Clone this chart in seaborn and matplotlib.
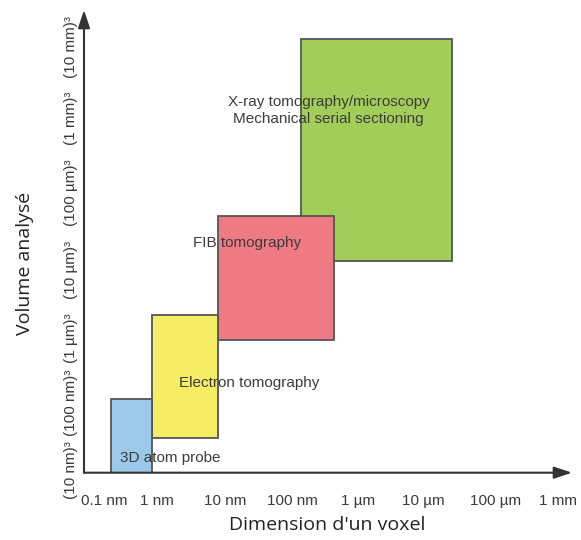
import matplotlib
matplotlib.use("Agg")
import matplotlib.pyplot as plt
import seaborn as sns

# ---- data (voxel size in nm, analysed volume side length in nm) ----
techniques = ["X-ray tomography/microscopy\nMechanical serial sectioning",
              "FIB tomography", "Electron tomography", "3D atom probe"]
voxel_min = [183, 10, 1, 0.24]
voxel_max = [35000, 580, 10, 1]
side_min = [10200, 763, 31, 10]
side_max = [1.4e7, 43700, 1726, 111]
colors = ["#a3cd59", "#f07a83", "#f5ed63", "#9cc9ea"]

x_tick_pos = [0.19, 1.2, 13, 134, 1330, 12900, 160000, 1.43e6]
x_tick_labels = ["0.1 nm", "1 nm", "10 nm", "100 nm", "1 µm", "10 µm", "100 µm", "1 mm"]
y_tick_pos = [10.9, 97, 810, 7500, 93000, 1.07e6, 1.1e7]
y_tick_labels = ["(10 nm)³", "(100 nm)³", "(1 µm)³", "(10 µm)³", "(100 µm)³", "(1 mm)³", "(10 mm)³"]

sns.set_theme(style="white")
plt.rcParams["font.family"] = ["Liberation Sans", "DejaVu Sans"]

W, H = 581, 540
fig = plt.figure(figsize=(W / 100, H / 100), dpi=100)
ax = fig.add_axes([84 / W, (H - 472.7) / H, (572 - 84) / W, (472.7 - 10) / H])
ax.set_xscale("log")
ax.set_yscale("log")
ax.set_xlim(0.094, 2.33e6)
ax.set_ylim(10, 3.66e7)

for i in range(len(techniques)):
    ax.bar(voxel_min[i], side_max[i] - side_min[i], width=voxel_max[i] - voxel_min[i],
           bottom=side_min[i], align="edge", color=colors[i], edgecolor="#555555",
           linewidth=1.3, zorder=2 + i)

for s in ax.spines.values():
    s.set_visible(False)
ax.minorticks_off()
ax.set_xticks(x_tick_pos)
ax.set_xticklabels(x_tick_labels, fontsize=11, color="#3a3a3a")
ax.set_yticks(y_tick_pos)
ax.set_yticklabels(y_tick_labels, fontsize=11, color="#3a3a3a", rotation=90, va="center")
ax.tick_params(axis="x", length=0, pad=15)
ax.tick_params(axis="y", length=0, pad=4)
ax.grid(False)

arrow_kw = dict(arrowstyle="-|>,head_length=0.6,head_width=0.2", color="#333333",
                lw=1.5, mutation_scale=18, shrinkA=0, shrinkB=0)
ax.annotate("", xy=(1, 0), xytext=(0, 0), xycoords="axes fraction",
            arrowprops=arrow_kw, annotation_clip=False, zorder=10)
ax.annotate("", xy=(0, 1), xytext=(0, 0), xycoords="axes fraction",
            arrowprops=arrow_kw, annotation_clip=False, zorder=10)

# technique labels (pixel positions in figure)
label_pos = [(328.5, 110.5), (247.5, 242.7), (249, 383), (170, 458)]
for (px, py), t in zip(label_pos, techniques):
    fig.text(px / W, 1 - py / H, t, ha="center", va="center", fontsize=11,
             color="#3c3c3c", linespacing=1.25, zorder=20)

fig.text(327 / W, 1 - 525 / H, "Dimension d'un voxel", ha="center", va="center",
         fontsize=14, color="#222222", family=["Open Sans", "DejaVu Sans"])
fig.text(25 / W, 1 - 263.5 / H, "Volume analysé", ha="center", va="center",
         rotation=90, fontsize=14, color="#222222", family=["Open Sans", "DejaVu Sans"])

fig.savefig("out.png", dpi=100, facecolor="white")
